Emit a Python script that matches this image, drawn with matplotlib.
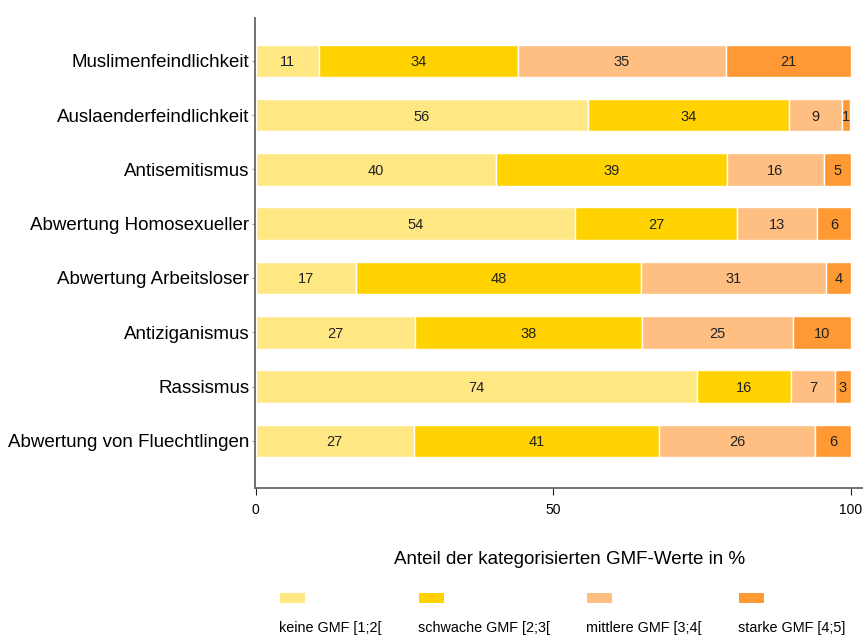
import matplotlib
matplotlib.use("Agg")
import matplotlib.pyplot as plt
from matplotlib.patches import Rectangle

plt.rcParams['font.family'] = ['Liberation Sans', 'DejaVu Sans']

categories = ["Muslimenfeindlichkeit", "Auslaenderfeindlichkeit", "Antisemitismus",
              "Abwertung Homosexueller", "Abwertung Arbeitsloser", "Antiziganismus",
              "Rassismus", "Abwertung von Fluechtlingen"]
keine    = [10.6, 55.9, 40.3, 53.7, 16.9, 26.8, 74.2, 26.6]
schwache = [33.5, 33.7, 38.9, 27.2, 47.9, 38.1, 15.7, 41.2]
mittlere = [34.9,  8.9, 16.2, 13.4, 31.0, 25.4,  7.4, 26.1]
starke   = [21.0,  1.4,  4.6,  5.7,  4.2,  9.7,  2.7,  6.1]
series_names = ["keine GMF [1;2[", "schwache GMF [2;3[", "mittlere GMF [3;4[", "starke GMF [4;5]"]
colors = ["#FFE884", "#FFD200", "#FFBE82", "#FF9933"]
xticks = [0, 50, 100]
xlabel = "Anteil der kategorisierten GMF-Werte in %"

W, H = 863, 635
fig = plt.figure(figsize=(W/100, H/100), dpi=100)
ax = fig.add_axes([255/W, 1-488/H, (W-255)/W, (488-18)/H])

series = [keine, schwache, mittlere, starke]
ypos = list(range(len(categories)))
left = [0.0]*len(categories)
for vals, col in zip(series, colors):
    ax.barh(ypos, vals, left=left, height=0.6, color=col,
            edgecolor="white", linewidth=1)
    for y, v, l in zip(ypos, vals, left):
        ax.text(l + v/2, y, f"{v:.0f}", ha="center", va="center_baseline",
                fontsize=10.5, color="#222222")
    left = [a+b for a, b in zip(left, vals)]

ax.set_xlim(-0.1, (W-255)/5.96)
ax.set_ylim(len(categories)-1+0.87, -0.79)
ax.set_yticks(ypos)
ax.set_yticklabels(categories, fontsize=13.5)
ax.set_xticks(xticks)
ax.set_xticklabels([str(t) for t in xticks], fontsize=10)
for s in ["top", "right"]:
    ax.spines[s].set_visible(False)
for s in ["left", "bottom"]:
    ax.spines[s].set_color("#666666")
    ax.spines[s].set_linewidth(1.3)
ax.tick_params(axis="y", length=2, color="#999999", pad=2)
ax.tick_params(axis="x", length=5, color="#222222", pad=6)

fig.text(570/W, 1-559/H, xlabel, ha="center", va="center", fontsize=13.5)

leg_x = [280, 419, 587, 739]
for x, name, col in zip(leg_x, series_names, colors):
    fig.add_artist(Rectangle((x/W, 1-603/H), 25/W, 10/H, transform=fig.transFigure,
                             facecolor=col, edgecolor="none"))
    fig.text(x/W - 1/W, 1-628/H, name, ha="left", va="center", fontsize=10.4)

fig.savefig("out.png", dpi=100)
